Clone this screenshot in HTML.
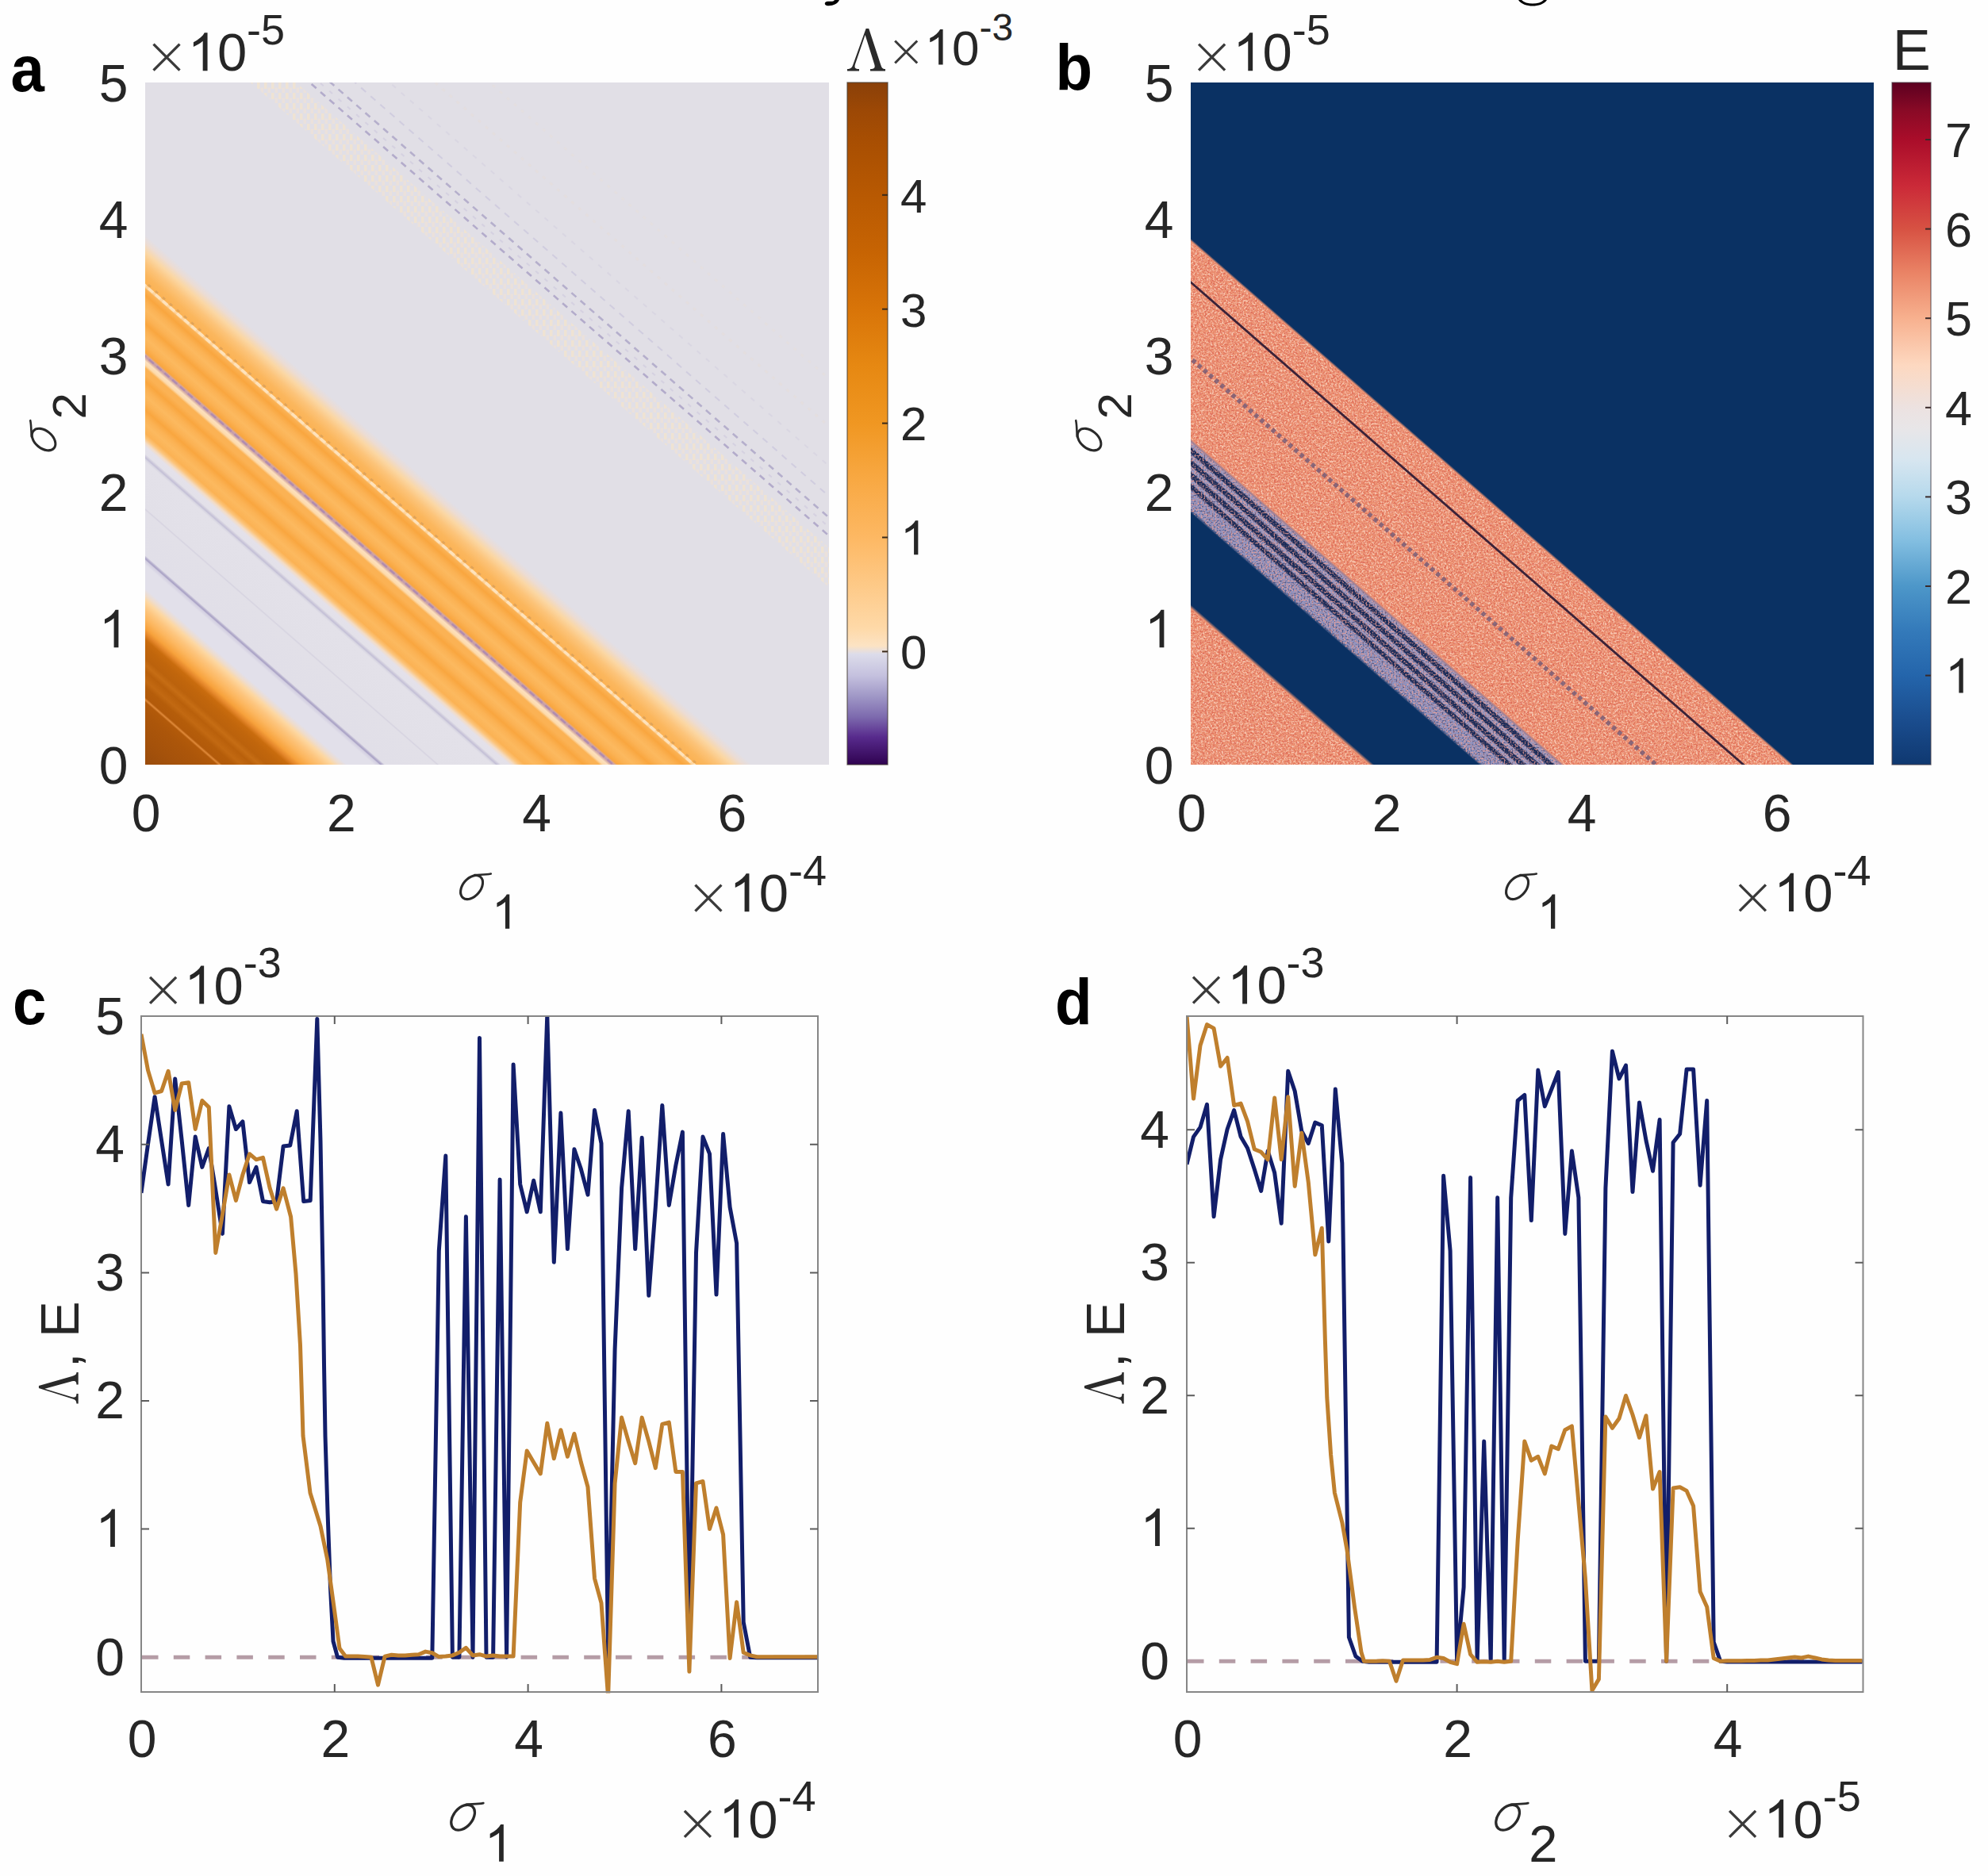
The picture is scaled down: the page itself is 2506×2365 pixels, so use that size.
<!DOCTYPE html>
<html><head><meta charset="utf-8"><title>figure</title>
<style>html,body{margin:0;padding:0;background:#fefefe;}body{width:2506px;height:2365px;overflow:hidden;font-family:"Liberation Sans",sans-serif;}svg{display:block;}</style></head>
<body>
<svg width="2506" height="2365" viewBox="0 0 2506 2365">
<defs>
<clipPath id="clipA"><rect x="183" y="104" width="862" height="860"/></clipPath>
<linearGradient id="gA" gradientUnits="userSpaceOnUse" x1="183.00" y1="-700.00" x2="-644.36" y2="247.72"><stop offset="0.00000" stop-color="#e1dfe6"/><stop offset="0.59641" stop-color="#e1dfe6"/><stop offset="0.60240" stop-color="#ecdcd3"/><stop offset="0.60958" stop-color="#fbd7a4"/><stop offset="0.61796" stop-color="#fcc47a"/><stop offset="0.62635" stop-color="#fbb75e"/><stop offset="0.63353" stop-color="#fbb254"/><stop offset="0.63263" stop-color="#fbb254"/><stop offset="0.63383" stop-color="#fdd5a0"/><stop offset="0.63563" stop-color="#fdd5a0"/><stop offset="0.63713" stop-color="#fbb254"/><stop offset="0.64192" stop-color="#f9a63f"/><stop offset="0.64731" stop-color="#fbb254"/><stop offset="0.65269" stop-color="#fcb95f"/><stop offset="0.65808" stop-color="#fbb254"/><stop offset="0.66347" stop-color="#f9a63f"/><stop offset="0.66886" stop-color="#fbb254"/><stop offset="0.67425" stop-color="#fcb95f"/><stop offset="0.67964" stop-color="#fbb254"/><stop offset="0.68503" stop-color="#f9a63f"/><stop offset="0.68683" stop-color="#d3a6a0"/><stop offset="0.68832" stop-color="#c29aae"/><stop offset="0.68982" stop-color="#dcb4a6"/><stop offset="0.69162" stop-color="#fde0bd"/><stop offset="0.69461" stop-color="#fddaaa"/><stop offset="0.69701" stop-color="#fbb254"/><stop offset="0.70180" stop-color="#fbb254"/><stop offset="0.70719" stop-color="#f9a63f"/><stop offset="0.71257" stop-color="#fbb254"/><stop offset="0.71796" stop-color="#fcb95f"/><stop offset="0.72335" stop-color="#fbb254"/><stop offset="0.72874" stop-color="#f9a63f"/><stop offset="0.73413" stop-color="#fbb254"/><stop offset="0.73952" stop-color="#fcb95f"/><stop offset="0.74611" stop-color="#fbb254"/><stop offset="0.74970" stop-color="#fcc47a"/><stop offset="0.75329" stop-color="#f3dcc6"/><stop offset="0.75629" stop-color="#e4e1ea"/><stop offset="0.76168" stop-color="#e3e1e9"/><stop offset="0.76347" stop-color="#cfcbdc"/><stop offset="0.76467" stop-color="#c3bfd6"/><stop offset="0.76587" stop-color="#d8d6e2"/><stop offset="0.76766" stop-color="#e3e1e9"/><stop offset="0.80240" stop-color="#e2e0e8"/><stop offset="0.80359" stop-color="#d6d3e0"/><stop offset="0.80479" stop-color="#e2e0e8"/><stop offset="0.83832" stop-color="#e1dfe8"/><stop offset="0.83982" stop-color="#b9b3cf"/><stop offset="0.84102" stop-color="#a8a1c4"/><stop offset="0.84222" stop-color="#d3cfe1"/><stop offset="0.84551" stop-color="#e2e0ea"/><stop offset="0.86347" stop-color="#e2e0ea"/><stop offset="0.86826" stop-color="#efdccb"/><stop offset="0.87246" stop-color="#fdd7a1"/><stop offset="0.87904" stop-color="#fdc57d"/><stop offset="0.88623" stop-color="#fcb65e"/><stop offset="0.89341" stop-color="#f7a23c"/><stop offset="0.89760" stop-color="#e5872a"/><stop offset="0.90180" stop-color="#c96c0e"/><stop offset="0.90719" stop-color="#c1660c"/><stop offset="0.91617" stop-color="#bb620c"/><stop offset="0.92096" stop-color="#c66d14"/><stop offset="0.92575" stop-color="#b9600b"/><stop offset="0.93293" stop-color="#c26912"/><stop offset="0.93772" stop-color="#b55d0a"/><stop offset="0.94551" stop-color="#b25a0a"/><stop offset="0.94731" stop-color="#e08a3a"/><stop offset="0.94910" stop-color="#b25a0a"/><stop offset="0.95808" stop-color="#ac560a"/><stop offset="0.97605" stop-color="#a5520b"/><stop offset="0.99641" stop-color="#9a4c0c"/><stop offset="1.00000" stop-color="#9a4c0c"/></linearGradient>
<pattern id="stip" width="9" height="13" patternUnits="userSpaceOnUse"><rect x="0" y="0" width="3.5" height="8" fill="#f0e3d2"/><rect x="4.5" y="6.5" width="3.5" height="6.5" fill="#eee2d8" fill-opacity="0.85"/></pattern>
<linearGradient id="cbA" x1="0" y1="0" x2="0" y2="1"><stop offset="0" stop-color="#8a4009"/><stop offset="0.04" stop-color="#9c4805"/><stop offset="0.09" stop-color="#a94f02"/><stop offset="0.165" stop-color="#b85902"/><stop offset="0.25" stop-color="#c76403"/><stop offset="0.331" stop-color="#d87408"/><stop offset="0.415" stop-color="#e68812"/><stop offset="0.5" stop-color="#f09722"/><stop offset="0.58" stop-color="#f8a842"/><stop offset="0.667" stop-color="#fdb863"/><stop offset="0.80" stop-color="#fed9a8"/><stop offset="0.826" stop-color="#fce3c4"/><stop offset="0.838" stop-color="#dcdcea"/><stop offset="0.87" stop-color="#c4c0de"/><stop offset="0.90" stop-color="#9f97c6"/><stop offset="0.93" stop-color="#7d6aae"/><stop offset="0.96" stop-color="#572a8c"/><stop offset="1" stop-color="#2f0250"/></linearGradient>
<clipPath id="clipB"><rect x="1501" y="104" width="861" height="860"/></clipPath>
<linearGradient id="gB" gradientUnits="userSpaceOnUse" x1="1501.00" y1="-700.00" x2="673.64" y2="247.72"><stop offset="0.00000" stop-color="#0a3163"/><stop offset="0.59910" stop-color="#0a3163"/><stop offset="0.60120" stop-color="#ec9272"/><stop offset="0.75030" stop-color="#ec9272"/><stop offset="0.75210" stop-color="#9c7f96"/><stop offset="0.75359" stop-color="#9f98bc"/><stop offset="0.75599" stop-color="#9a98c0"/><stop offset="0.75719" stop-color="#172a58"/><stop offset="0.76108" stop-color="#172a58"/><stop offset="0.76228" stop-color="#9a98c0"/><stop offset="0.76527" stop-color="#9a98c0"/><stop offset="0.76647" stop-color="#172a58"/><stop offset="0.77036" stop-color="#172a58"/><stop offset="0.77156" stop-color="#9a98c0"/><stop offset="0.77455" stop-color="#9a98c0"/><stop offset="0.77575" stop-color="#172a58"/><stop offset="0.77964" stop-color="#172a58"/><stop offset="0.78084" stop-color="#9a98c0"/><stop offset="0.78353" stop-color="#9a98c0"/><stop offset="0.78473" stop-color="#172a58"/><stop offset="0.78802" stop-color="#172a58"/><stop offset="0.78952" stop-color="#8f92bf"/><stop offset="0.80299" stop-color="#8f92bf"/><stop offset="0.80659" stop-color="#0a3163"/><stop offset="0.87545" stop-color="#0a3163"/><stop offset="0.87844" stop-color="#ec9272"/><stop offset="1.00000" stop-color="#ec9272"/></linearGradient>
<filter id="noise" x="0" y="0" width="100%" height="100%" color-interpolation-filters="sRGB"><feTurbulence type="fractalNoise" baseFrequency="0.42" numOctaves="2" seed="7" result="n"/><feColorMatrix in="n" type="matrix" values="0 0 0 0 1  0 0 0 0 0.90  0 0 0 0 0.84  5 0 0 0 -2.35"/></filter>
<filter id="noise2" x="0" y="0" width="100%" height="100%" color-interpolation-filters="sRGB"><feTurbulence type="fractalNoise" baseFrequency="0.47" numOctaves="2" seed="23" result="n"/><feColorMatrix in="n" type="matrix" values="0 0 0 0 0.84  0 0 0 0 0.33  0 0 0 0 0.28  0 5 0 0 -2.45"/></filter>
<filter id="noise3" x="0" y="0" width="100%" height="100%" color-interpolation-filters="sRGB"><feTurbulence type="fractalNoise" baseFrequency="0.5" numOctaves="2" seed="5" result="n"/><feColorMatrix in="n" type="matrix" values="0 0 0 0 0.93  0 0 0 0 0.62  0 0 0 0 0.58  0 0 5 0 -2.3"/></filter>
<filter id="noise4" x="0" y="0" width="100%" height="100%" color-interpolation-filters="sRGB"><feTurbulence type="fractalNoise" baseFrequency="0.5" numOctaves="2" seed="11" result="n"/><feColorMatrix in="n" type="matrix" values="0 0 0 0 0.10  0 0 0 0 0.16  0 0 0 0 0.36  4 0 0 0 -2.0"/></filter>
<clipPath id="clipLav"><polygon points="1501.0,557.0 2362.0,1308.7 2362.0,1396.7 1501.0,645.0"/></clipPath>
<clipPath id="clipSal"><polygon points="1501.0,305.0 2362.0,1056.7 2362.0,1304.7 1501.0,553.0"/><polygon points="1501.0,768.0 2362.0,1519.7 2362.0,1751.7 1501.0,1000.0"/></clipPath>
<linearGradient id="cbB" x1="0" y1="0" x2="0" y2="1"><stop offset="0.000" stop-color="#5c0020"/><stop offset="0.042" stop-color="#8a0a26"/><stop offset="0.084" stop-color="#aa0d2a"/><stop offset="0.152" stop-color="#cb2a38"/><stop offset="0.215" stop-color="#d75243"/><stop offset="0.280" stop-color="#ea8466"/><stop offset="0.345" stop-color="#f7b08e"/><stop offset="0.414" stop-color="#fdd8c0"/><stop offset="0.478" stop-color="#ece2e1"/><stop offset="0.507" stop-color="#e8e6e8"/><stop offset="0.553" stop-color="#d7e6f0"/><stop offset="0.607" stop-color="#b6d9ec"/><stop offset="0.670" stop-color="#84bfe1"/><stop offset="0.738" stop-color="#4d97c9"/><stop offset="0.803" stop-color="#347aba"/><stop offset="0.869" stop-color="#2465ab"/><stop offset="0.937" stop-color="#1a4c8d"/><stop offset="1.000" stop-color="#0f3870"/></linearGradient>
<clipPath id="clipC"><rect x="177.0" y="1280.0" width="855.0" height="854.5"/></clipPath>
<clipPath id="clipD"><rect x="1495.0" y="1280.0" width="854.5" height="854.5"/></clipPath>
</defs>
<rect x="0" y="0" width="2506" height="2365" fill="#fefefe"/>
<path d="M1058 0 C1056 5 1049 8 1042 7 C1039 6 1039 3 1042 2 C1046 1 1050 3 1052 0 Z" fill="#000"/>
<path d="M1914 0 C1917 5 1925 7.5 1932 7.5 C1939 7.5 1947 5 1950 0 L1946 0 C1943 3 1938 4.5 1932 4.5 C1926 4.5 1921 3 1918 0 Z" fill="#000"/>
<g clip-path="url(#clipA)">
<rect x="183" y="104" width="862" height="860" fill="url(#gA)"/>
<polygon points="183.0,-62.0 1050.0,694.9 1050.0,744.9 183.0,-12.0" fill="url(#stip)" fill-opacity="0.95"/>
<line x1="178.0" y1="-81.4" x2="1050.0" y2="679.9" stroke="#aaa2c6" stroke-width="2.6" stroke-opacity="0.85" stroke-dasharray="8 7"/>
<line x1="178.0" y1="-104.4" x2="1050.0" y2="656.9" stroke="#aaa2c6" stroke-width="2.6" stroke-opacity="0.80" stroke-dasharray="8 7"/>
<line x1="178.0" y1="-92.4" x2="1050.0" y2="668.9" stroke="#c9c4dc" stroke-width="2.0" stroke-opacity="0.50" stroke-dasharray="5 10"/>
<line x1="178.0" y1="-131.4" x2="1050.0" y2="629.9" stroke="#c3bdd8" stroke-width="2.0" stroke-opacity="0.55" stroke-dasharray="8 8"/>
<line x1="178.0" y1="-169.4" x2="1050.0" y2="591.9" stroke="#d0cbde" stroke-width="2.0" stroke-opacity="0.45" stroke-dasharray="6 9"/>
<line x1="178.0" y1="-219.4" x2="1050.0" y2="541.9" stroke="#e8ded8" stroke-width="3.0" stroke-opacity="0.50" stroke-dasharray="4 8"/>
<line x1="178.0" y1="-279.4" x2="1050.0" y2="481.9" stroke="#e8ded8" stroke-width="3.0" stroke-opacity="0.40" stroke-dasharray="4 8"/>
<line x1="178.0" y1="355.6" x2="1050.0" y2="1116.9" stroke="#fee3bd" stroke-width="3.6" stroke-opacity="0.95" stroke-dasharray="8 4"/>
<line x1="178.0" y1="351.1" x2="1050.0" y2="1112.4" stroke="#b98d5c" stroke-width="2.4" stroke-opacity="0.40" stroke-dasharray="4 8"/>
<line x1="178.0" y1="444.6" x2="1050.0" y2="1205.9" stroke="#a884b0" stroke-width="2.6" stroke-opacity="0.70" stroke-dasharray="8 5"/>
</g>
<text x="161.5" y="988.3" font-family="Liberation Sans" font-size="66.0" text-anchor="end" font-weight="normal" font-style="normal" fill="#262626" >0</text>
<path transform="translate(124.79,816.30) scale(0.03223,-0.03223)" d="M763 0 L583 0 L583 1147 Q518 1085 412.5 1023 Q307 961 223 930 L223 1104 Q374 1175 487 1276 Q600 1377 647 1472 L763 1472 Z" fill="#262626"/>
<text x="161.5" y="644.3" font-family="Liberation Sans" font-size="66.0" text-anchor="end" font-weight="normal" font-style="normal" fill="#262626" >2</text>
<text x="161.5" y="472.3" font-family="Liberation Sans" font-size="66.0" text-anchor="end" font-weight="normal" font-style="normal" fill="#262626" >3</text>
<text x="161.5" y="300.3" font-family="Liberation Sans" font-size="66.0" text-anchor="end" font-weight="normal" font-style="normal" fill="#262626" >4</text>
<text x="161.5" y="128.3" font-family="Liberation Sans" font-size="66.0" text-anchor="end" font-weight="normal" font-style="normal" fill="#262626" >5</text>
<text x="184.0" y="1048.3" font-family="Liberation Sans" font-size="66.0" text-anchor="middle" font-weight="normal" font-style="normal" fill="#262626" >0</text>
<text x="430.3" y="1048.3" font-family="Liberation Sans" font-size="66.0" text-anchor="middle" font-weight="normal" font-style="normal" fill="#262626" >2</text>
<text x="676.6" y="1048.3" font-family="Liberation Sans" font-size="66.0" text-anchor="middle" font-weight="normal" font-style="normal" fill="#262626" >4</text>
<text x="922.9" y="1048.3" font-family="Liberation Sans" font-size="66.0" text-anchor="middle" font-weight="normal" font-style="normal" fill="#262626" >6</text>
<path d="M193.5 55.6 L226.5 88.6 M193.5 88.6 L226.5 55.6" stroke="#3a3a3a" stroke-width="3.3" fill="none"/>
<path transform="translate(236.60,89.30) scale(0.03271,-0.03271)" d="M763 0 L583 0 L583 1147 Q518 1085 412.5 1023 Q307 961 223 930 L223 1104 Q374 1175 487 1276 Q600 1377 647 1472 L763 1472 Z" fill="#262626"/>
<text x="273.9" y="89.3" font-family="Liberation Sans" font-size="67.0" text-anchor="start" font-weight="normal" font-style="normal" fill="#262626" >0</text>
<text x="311.1" y="55.8" font-family="Liberation Sans" font-size="54.0" text-anchor="start" font-weight="normal" font-style="normal" fill="#262626" >-5</text>
<path d="M876.4 1115.6 L909.4 1148.6 M876.4 1148.6 L909.4 1115.6" stroke="#3a3a3a" stroke-width="3.3" fill="none"/>
<path transform="translate(919.50,1149.30) scale(0.03271,-0.03271)" d="M763 0 L583 0 L583 1147 Q518 1085 412.5 1023 Q307 961 223 930 L223 1104 Q374 1175 487 1276 Q600 1377 647 1472 L763 1472 Z" fill="#262626"/>
<text x="956.8" y="1149.3" font-family="Liberation Sans" font-size="67.0" text-anchor="start" font-weight="normal" font-style="normal" fill="#262626" >0</text>
<text x="994.0" y="1115.8" font-family="Liberation Sans" font-size="54.0" text-anchor="start" font-weight="normal" font-style="normal" fill="#262626" >-4</text>
<text transform="translate(13.5,115.3) scale(0.930,1)" font-family="Liberation Sans" font-size="82.0" font-weight="bold" fill="#000">a</text>
<rect x="1068" y="104" width="51" height="860" fill="url(#cbA)" stroke="#4a4038" stroke-opacity="0.75" stroke-width="1.3"/>
<line x1="1112.0" y1="821.4" x2="1119.0" y2="821.4" stroke="#3a2a1a" stroke-width="2"/>
<text x="1135.0" y="843.2" font-family="Liberation Sans" font-size="60.0" text-anchor="start" font-weight="normal" font-style="normal" fill="#262626" >0</text>
<line x1="1112.0" y1="677.5" x2="1119.0" y2="677.5" stroke="#3a2a1a" stroke-width="2"/>
<path transform="translate(1135.00,699.30) scale(0.02930,-0.02930)" d="M763 0 L583 0 L583 1147 Q518 1085 412.5 1023 Q307 961 223 930 L223 1104 Q374 1175 487 1276 Q600 1377 647 1472 L763 1472 Z" fill="#262626"/>
<line x1="1112.0" y1="533.6" x2="1119.0" y2="533.6" stroke="#3a2a1a" stroke-width="2"/>
<text x="1135.0" y="555.4" font-family="Liberation Sans" font-size="60.0" text-anchor="start" font-weight="normal" font-style="normal" fill="#262626" >2</text>
<line x1="1112.0" y1="389.7" x2="1119.0" y2="389.7" stroke="#3a2a1a" stroke-width="2"/>
<text x="1135.0" y="411.5" font-family="Liberation Sans" font-size="60.0" text-anchor="start" font-weight="normal" font-style="normal" fill="#262626" >3</text>
<line x1="1112.0" y1="245.8" x2="1119.0" y2="245.8" stroke="#3a2a1a" stroke-width="2"/>
<text x="1135.0" y="267.6" font-family="Liberation Sans" font-size="60.0" text-anchor="start" font-weight="normal" font-style="normal" fill="#262626" >4</text>
<path transform="translate(1068.00,89.50) scale(1.0000,1.0000)" d="M0 0 L0 -2.4 C4 -2.6 6 -3.8 7.5 -8.5 L23.6 -53.5 L27.2 -53.5 L42 -8.5 C43.5 -3.8 44.5 -2.6 48 -2.4 L48 0 L29 0 L29 -2.4 C34 -2.6 35.6 -3.8 34.2 -8.5 L22.6 -45.5 L10 -8.5 C8.7 -3.8 10 -2.6 15 -2.4 L15 0 Z" fill="#2a2a2a"/>
<path d="M1128.2 51.5 L1156.2 79.5 M1128.2 79.5 L1156.2 51.5" stroke="#3a3a3a" stroke-width="3.0" fill="none"/>
<path transform="translate(1165.50,81.50) scale(0.03027,-0.03027)" d="M763 0 L583 0 L583 1147 Q518 1085 412.5 1023 Q307 961 223 930 L223 1104 Q374 1175 487 1276 Q600 1377 647 1472 L763 1472 Z" fill="#262626"/>
<text x="1200.0" y="81.5" font-family="Liberation Sans" font-size="62.0" text-anchor="start" font-weight="normal" font-style="normal" fill="#262626" >0</text>
<text x="1234.5" y="51.4" font-family="Liberation Sans" font-size="48.0" text-anchor="start" font-weight="normal" font-style="normal" fill="#262626" >-3</text>
<g transform="translate(578.90,1134.50) scale(0.9430)" fill="none" stroke="#2a2a2a" stroke-linecap="round"><ellipse cx="16.6" cy="-16.9" rx="18.2" ry="11.9" transform="rotate(-50 16.6 -16.9)" stroke-width="3.30"/><path d="M20.5 -33.3 C27 -33.9 36 -33.6 42.3 -35" stroke-width="2.80"/></g>
<path transform="translate(619.90,1170.70) scale(0.02930,-0.02930)" d="M763 0 L583 0 L583 1147 Q518 1085 412.5 1023 Q307 961 223 930 L223 1104 Q374 1175 487 1276 Q600 1377 647 1472 L763 1472 Z" fill="#262626"/>
<g transform="translate(70.8,569.5) rotate(-90)">
<g transform="translate(0.00,0.00) scale(0.9300)" fill="none" stroke="#2a2a2a" stroke-linecap="round"><ellipse cx="16.6" cy="-16.9" rx="18.2" ry="11.9" transform="rotate(-50 16.6 -16.9)" stroke-width="3.30"/><path d="M20.5 -33.3 C27 -33.9 36 -33.6 42.3 -35" stroke-width="2.80"/></g>
<text x="41.0" y="36.7" font-family="Liberation Sans" font-size="60.0" text-anchor="start" font-weight="normal" font-style="normal" fill="#262626" >2</text>
</g>
<g clip-path="url(#clipB)">
<rect x="1501" y="104" width="861" height="860" fill="url(#gB)"/>
<g clip-path="url(#clipSal)">
<rect x="1501" y="104" width="861" height="860" filter="url(#noise)" opacity="0.6"/>
<rect x="1501" y="104" width="861" height="860" filter="url(#noise2)" opacity="0.6"/>
</g>
<g clip-path="url(#clipLav)">
<rect x="1501" y="540" width="861" height="424" filter="url(#noise3)" opacity="0.75"/>
<rect x="1501" y="540" width="861" height="424" filter="url(#noise4)" opacity="0.55"/>
</g>
<line x1="1496.0" y1="351.4" x2="2367.0" y2="1111.8" stroke="#3b2238" stroke-width="2.8" stroke-opacity="1.00"/>
<line x1="1496.0" y1="447.6" x2="2367.0" y2="1208.0" stroke="#6e5876" stroke-width="5.5" stroke-opacity="0.78" stroke-dasharray="5 4.5"/>
</g>
<text x="1479.5" y="988.3" font-family="Liberation Sans" font-size="66.0" text-anchor="end" font-weight="normal" font-style="normal" fill="#262626" >0</text>
<path transform="translate(1442.79,816.30) scale(0.03223,-0.03223)" d="M763 0 L583 0 L583 1147 Q518 1085 412.5 1023 Q307 961 223 930 L223 1104 Q374 1175 487 1276 Q600 1377 647 1472 L763 1472 Z" fill="#262626"/>
<text x="1479.5" y="644.3" font-family="Liberation Sans" font-size="66.0" text-anchor="end" font-weight="normal" font-style="normal" fill="#262626" >2</text>
<text x="1479.5" y="472.3" font-family="Liberation Sans" font-size="66.0" text-anchor="end" font-weight="normal" font-style="normal" fill="#262626" >3</text>
<text x="1479.5" y="300.3" font-family="Liberation Sans" font-size="66.0" text-anchor="end" font-weight="normal" font-style="normal" fill="#262626" >4</text>
<text x="1479.5" y="128.3" font-family="Liberation Sans" font-size="66.0" text-anchor="end" font-weight="normal" font-style="normal" fill="#262626" >5</text>
<text x="1502.0" y="1048.3" font-family="Liberation Sans" font-size="66.0" text-anchor="middle" font-weight="normal" font-style="normal" fill="#262626" >0</text>
<text x="1748.0" y="1048.3" font-family="Liberation Sans" font-size="66.0" text-anchor="middle" font-weight="normal" font-style="normal" fill="#262626" >2</text>
<text x="1994.0" y="1048.3" font-family="Liberation Sans" font-size="66.0" text-anchor="middle" font-weight="normal" font-style="normal" fill="#262626" >4</text>
<text x="2240.0" y="1048.3" font-family="Liberation Sans" font-size="66.0" text-anchor="middle" font-weight="normal" font-style="normal" fill="#262626" >6</text>
<path d="M1511.1 55.6 L1544.1 88.6 M1511.1 88.6 L1544.1 55.6" stroke="#3a3a3a" stroke-width="3.3" fill="none"/>
<path transform="translate(1554.20,89.30) scale(0.03271,-0.03271)" d="M763 0 L583 0 L583 1147 Q518 1085 412.5 1023 Q307 961 223 930 L223 1104 Q374 1175 487 1276 Q600 1377 647 1472 L763 1472 Z" fill="#262626"/>
<text x="1591.5" y="89.3" font-family="Liberation Sans" font-size="67.0" text-anchor="start" font-weight="normal" font-style="normal" fill="#262626" >0</text>
<text x="1628.7" y="55.8" font-family="Liberation Sans" font-size="54.0" text-anchor="start" font-weight="normal" font-style="normal" fill="#262626" >-5</text>
<path d="M2192.9 1115.3 L2225.9 1148.3 M2192.9 1148.3 L2225.9 1115.3" stroke="#3a3a3a" stroke-width="3.3" fill="none"/>
<path transform="translate(2236.00,1149.00) scale(0.03271,-0.03271)" d="M763 0 L583 0 L583 1147 Q518 1085 412.5 1023 Q307 961 223 930 L223 1104 Q374 1175 487 1276 Q600 1377 647 1472 L763 1472 Z" fill="#262626"/>
<text x="2273.3" y="1149.0" font-family="Liberation Sans" font-size="67.0" text-anchor="start" font-weight="normal" font-style="normal" fill="#262626" >0</text>
<text x="2310.5" y="1115.5" font-family="Liberation Sans" font-size="54.0" text-anchor="start" font-weight="normal" font-style="normal" fill="#262626" >-4</text>
<text transform="translate(1330.5,113.3) scale(0.930,1)" font-family="Liberation Sans" font-size="82.0" font-weight="bold" fill="#000">b</text>
<rect x="2385" y="104" width="49" height="860" fill="url(#cbB)" stroke="#4a4048" stroke-opacity="0.7" stroke-width="1.3"/>
<line x1="2427.0" y1="851.6" x2="2434.0" y2="851.6" stroke="#3a2a2a" stroke-width="2"/>
<path transform="translate(2452.00,873.60) scale(0.02979,-0.02979)" d="M763 0 L583 0 L583 1147 Q518 1085 412.5 1023 Q307 961 223 930 L223 1104 Q374 1175 487 1276 Q600 1377 647 1472 L763 1472 Z" fill="#262626"/>
<line x1="2427.0" y1="739.0" x2="2434.0" y2="739.0" stroke="#3a2a2a" stroke-width="2"/>
<text x="2452.0" y="761.0" font-family="Liberation Sans" font-size="61.0" text-anchor="start" font-weight="normal" font-style="normal" fill="#262626" >2</text>
<line x1="2427.0" y1="626.4" x2="2434.0" y2="626.4" stroke="#3a2a2a" stroke-width="2"/>
<text x="2452.0" y="648.4" font-family="Liberation Sans" font-size="61.0" text-anchor="start" font-weight="normal" font-style="normal" fill="#262626" >3</text>
<line x1="2427.0" y1="513.8" x2="2434.0" y2="513.8" stroke="#3a2a2a" stroke-width="2"/>
<text x="2452.0" y="535.8" font-family="Liberation Sans" font-size="61.0" text-anchor="start" font-weight="normal" font-style="normal" fill="#262626" >4</text>
<line x1="2427.0" y1="401.2" x2="2434.0" y2="401.2" stroke="#3a2a2a" stroke-width="2"/>
<text x="2452.0" y="423.2" font-family="Liberation Sans" font-size="61.0" text-anchor="start" font-weight="normal" font-style="normal" fill="#262626" >5</text>
<line x1="2427.0" y1="288.6" x2="2434.0" y2="288.6" stroke="#3a2a2a" stroke-width="2"/>
<text x="2452.0" y="310.6" font-family="Liberation Sans" font-size="61.0" text-anchor="start" font-weight="normal" font-style="normal" fill="#262626" >6</text>
<line x1="2427.0" y1="176.0" x2="2434.0" y2="176.0" stroke="#3a2a2a" stroke-width="2"/>
<text x="2452.0" y="198.0" font-family="Liberation Sans" font-size="61.0" text-anchor="start" font-weight="normal" font-style="normal" fill="#262626" >7</text>
<text x="2385.7" y="88.4" font-family="Liberation Sans" font-size="72.0" text-anchor="start" font-weight="normal" font-style="normal" fill="#262626" >E</text>
<g transform="translate(1896.90,1134.50) scale(0.9430)" fill="none" stroke="#2a2a2a" stroke-linecap="round"><ellipse cx="16.6" cy="-16.9" rx="18.2" ry="11.9" transform="rotate(-50 16.6 -16.9)" stroke-width="3.30"/><path d="M20.5 -33.3 C27 -33.9 36 -33.6 42.3 -35" stroke-width="2.80"/></g>
<path transform="translate(1937.90,1170.70) scale(0.02930,-0.02930)" d="M763 0 L583 0 L583 1147 Q518 1085 412.5 1023 Q307 961 223 930 L223 1104 Q374 1175 487 1276 Q600 1377 647 1472 L763 1472 Z" fill="#262626"/>
<g transform="translate(1388.8,569.5) rotate(-90)">
<g transform="translate(0.00,0.00) scale(0.9300)" fill="none" stroke="#2a2a2a" stroke-linecap="round"><ellipse cx="16.6" cy="-16.9" rx="18.2" ry="11.9" transform="rotate(-50 16.6 -16.9)" stroke-width="3.30"/><path d="M20.5 -33.3 C27 -33.9 36 -33.6 42.3 -35" stroke-width="2.80"/></g>
<text x="41.0" y="36.7" font-family="Liberation Sans" font-size="60.0" text-anchor="start" font-weight="normal" font-style="normal" fill="#262626" >2</text>
</g>
<g clip-path="url(#clipC)">
<line x1="178.0" y1="2089.2" x2="1031.0" y2="2089.2" stroke="#b59ca6" stroke-width="5" stroke-dasharray="20.5 19.3" stroke-dashoffset="-1"/>
<path d="M178.0 1503.8 L186.5 1442.7 L195.1 1382.7 L203.6 1437.9 L212.1 1493.0 L220.7 1359.9 L229.2 1437.9 L237.7 1519.4 L246.2 1433.1 L254.8 1471.4 L263.3 1447.5 L271.8 1500.2 L280.4 1555.4 L288.9 1394.7 L297.4 1423.5 L305.9 1413.9 L314.5 1490.6 L323.0 1471.4 L331.5 1514.6 L340.1 1515.8 L348.6 1514.6 L357.1 1445.1 L365.7 1443.9 L374.2 1400.7 L382.7 1514.6 L391.2 1513.4 L399.8 1284.4 L404.0 1438.0 L407.0 1606.0 L408.5 1720.0 L410.0 1810.0 L413.0 1906.0 L416.5 2002.0 L420.0 2069.0 L425.5 2089.2 L433.9 2090.2 L442.4 2090.2 L451.0 2090.2 L459.5 2090.2 L468.0 2090.2 L476.5 2090.2 L485.1 2090.2 L493.6 2090.2 L502.1 2090.2 L510.7 2090.2 L519.2 2090.2 L527.7 2090.2 L536.3 2090.2 L544.8 2090.2 L553.3 1577.0 L561.8 1457.1 L570.4 2089.2 L578.9 2089.2 L587.4 1533.8 L596.0 2089.2 L604.5 1308.4 L613.0 2089.2 L621.6 2089.2 L630.1 1487.0 L638.6 2089.2 L647.1 1341.9 L655.7 1493.0 L664.2 1527.8 L672.7 1488.2 L681.3 1527.8 L689.8 1279.6 L698.3 1591.3 L706.9 1403.1 L715.4 1574.6 L723.9 1448.7 L732.4 1473.8 L741.0 1506.2 L749.5 1399.5 L758.0 1441.5 L766.6 2089.2 L775.1 1700.9 L783.6 1497.8 L792.2 1400.7 L800.7 1574.6 L809.2 1434.3 L817.8 1633.3 L826.3 1521.8 L834.8 1393.5 L843.3 1519.4 L851.9 1469.0 L860.4 1427.1 L868.9 2089.2 L877.5 1579.4 L886.0 1433.1 L894.5 1454.7 L903.0 1632.1 L911.6 1429.5 L920.1 1521.8 L928.6 1567.4 L937.2 2045.0 L945.7 2089.2 L954.2 2089.7 L962.8 2089.7 L971.3 2089.7 L979.8 2089.7 L988.3 2089.7 L996.9 2089.7 L1005.4 2089.7 L1013.9 2089.7 L1022.5 2089.7 L1031.0 2089.7" fill="none" stroke="#121e6a" stroke-width="5" stroke-linejoin="round" stroke-linecap="butt"/>
<path d="M178.0 1303.6 L186.5 1349.1 L195.1 1377.9 L203.6 1375.5 L212.1 1350.3 L220.7 1399.5 L229.2 1365.9 L237.7 1364.7 L246.2 1423.5 L254.8 1387.5 L263.3 1395.9 L271.8 1579.4 L280.4 1531.4 L288.9 1481.0 L297.4 1513.4 L305.9 1481.0 L314.5 1454.7 L323.0 1461.8 L331.5 1459.4 L340.1 1497.8 L348.6 1524.2 L357.1 1497.8 L366.6 1534.0 L373.0 1606.0 L378.5 1696.0 L382.0 1810.0 L391.0 1882.0 L404.0 1924.0 L412.7 1966.0 L421.0 2026.0 L428.0 2078.0 L435.5 2088.0 L442.4 2088.1 L451.0 2088.1 L459.5 2088.6 L468.0 2089.3 L476.5 2124.1 L485.1 2088.1 L493.6 2086.2 L502.1 2086.9 L510.7 2086.9 L519.2 2086.2 L527.7 2085.7 L536.3 2082.1 L544.8 2083.8 L553.3 2088.6 L561.8 2088.1 L570.4 2086.9 L578.9 2083.3 L587.4 2077.3 L596.0 2086.9 L604.5 2085.7 L613.0 2088.1 L621.6 2086.9 L630.1 2088.1 L638.6 2088.1 L647.1 2088.1 L655.7 1893.8 L664.2 1829.1 L672.7 1843.5 L681.3 1857.9 L689.8 1794.3 L698.3 1838.7 L706.9 1802.7 L715.4 1836.3 L723.9 1807.5 L732.4 1843.5 L741.0 1874.7 L749.5 1989.8 L758.0 2020.9 L766.6 2139.6 L775.1 1869.9 L783.6 1787.1 L792.2 1817.1 L800.7 1844.7 L809.2 1787.1 L817.8 1817.1 L826.3 1850.7 L834.8 1795.5 L843.3 1793.1 L851.9 1855.5 L860.4 1855.5 L868.9 2107.3 L877.5 1869.9 L886.0 1867.5 L894.5 1927.4 L903.0 1901.0 L911.6 1934.6 L920.1 2090.5 L928.6 2019.7 L937.2 2083.3 L945.7 2086.9 L954.2 2088.7 L962.8 2088.7 L971.3 2088.7 L979.8 2088.7 L988.3 2088.7 L996.9 2088.7 L1005.4 2088.7 L1013.9 2088.7 L1022.5 2088.7 L1031.0 2088.7" fill="none" stroke="#bf7f2d" stroke-width="5" stroke-linejoin="round" stroke-linecap="butt"/>
</g>
<rect x="178.0" y="1281.0" width="853.0" height="852.0" fill="none" stroke="#868686" stroke-width="2"/>
<path d="M421.8 2133.0 v-10 M421.8 1281.0 v10 M665.6 2133.0 v-10 M665.6 1281.0 v10 M909.4 2133.0 v-10 M909.4 1281.0 v10 M178.0 1927.6 h10 M1031.0 1927.6 h-10 M178.0 1766.0 h10 M1031.0 1766.0 h-10 M178.0 1604.4 h10 M1031.0 1604.4 h-10 M178.0 1442.8 h10 M1031.0 1442.8 h-10" stroke="#5c5c5c" stroke-width="2" fill="none"/>
<text x="157.0" y="2111.5" font-family="Liberation Sans" font-size="66.0" text-anchor="end" font-weight="normal" font-style="normal" fill="#262626" >0</text>
<path transform="translate(120.29,1949.90) scale(0.03223,-0.03223)" d="M763 0 L583 0 L583 1147 Q518 1085 412.5 1023 Q307 961 223 930 L223 1104 Q374 1175 487 1276 Q600 1377 647 1472 L763 1472 Z" fill="#262626"/>
<text x="157.0" y="1788.3" font-family="Liberation Sans" font-size="66.0" text-anchor="end" font-weight="normal" font-style="normal" fill="#262626" >2</text>
<text x="157.0" y="1626.7" font-family="Liberation Sans" font-size="66.0" text-anchor="end" font-weight="normal" font-style="normal" fill="#262626" >3</text>
<text x="157.0" y="1465.1" font-family="Liberation Sans" font-size="66.0" text-anchor="end" font-weight="normal" font-style="normal" fill="#262626" >4</text>
<text x="157.0" y="1303.5" font-family="Liberation Sans" font-size="66.0" text-anchor="end" font-weight="normal" font-style="normal" fill="#262626" >5</text>
<text x="179.0" y="2215.3" font-family="Liberation Sans" font-size="66.0" text-anchor="middle" font-weight="normal" font-style="normal" fill="#262626" >0</text>
<text x="422.8" y="2215.3" font-family="Liberation Sans" font-size="66.0" text-anchor="middle" font-weight="normal" font-style="normal" fill="#262626" >2</text>
<text x="666.6" y="2215.3" font-family="Liberation Sans" font-size="66.0" text-anchor="middle" font-weight="normal" font-style="normal" fill="#262626" >4</text>
<text x="910.4" y="2215.3" font-family="Liberation Sans" font-size="66.0" text-anchor="middle" font-weight="normal" font-style="normal" fill="#262626" >6</text>
<path d="M189.1 1231.9 L222.1 1264.9 M189.1 1264.9 L222.1 1231.9" stroke="#3a3a3a" stroke-width="3.3" fill="none"/>
<path transform="translate(232.20,1265.60) scale(0.03271,-0.03271)" d="M763 0 L583 0 L583 1147 Q518 1085 412.5 1023 Q307 961 223 930 L223 1104 Q374 1175 487 1276 Q600 1377 647 1472 L763 1472 Z" fill="#262626"/>
<text x="269.5" y="1265.6" font-family="Liberation Sans" font-size="67.0" text-anchor="start" font-weight="normal" font-style="normal" fill="#262626" >0</text>
<text x="306.7" y="1232.1" font-family="Liberation Sans" font-size="54.0" text-anchor="start" font-weight="normal" font-style="normal" fill="#262626" >-3</text>
<path d="M862.9 2282.9 L895.9 2315.9 M862.9 2315.9 L895.9 2282.9" stroke="#3a3a3a" stroke-width="3.3" fill="none"/>
<path transform="translate(906.00,2316.60) scale(0.03271,-0.03271)" d="M763 0 L583 0 L583 1147 Q518 1085 412.5 1023 Q307 961 223 930 L223 1104 Q374 1175 487 1276 Q600 1377 647 1472 L763 1472 Z" fill="#262626"/>
<text x="943.3" y="2316.6" font-family="Liberation Sans" font-size="67.0" text-anchor="start" font-weight="normal" font-style="normal" fill="#262626" >0</text>
<text x="980.5" y="2283.1" font-family="Liberation Sans" font-size="54.0" text-anchor="start" font-weight="normal" font-style="normal" fill="#262626" >-4</text>
<text transform="translate(16.0,1291.0) scale(0.930,1)" font-family="Liberation Sans" font-size="82.0" font-weight="bold" fill="#000">c</text>
<g transform="translate(567.00,2308.10) scale(1.0000)" fill="none" stroke="#2a2a2a" stroke-linecap="round"><ellipse cx="16.6" cy="-16.9" rx="18.2" ry="11.9" transform="rotate(-50 16.6 -16.9)" stroke-width="3.30"/><path d="M20.5 -33.3 C27 -33.9 36 -33.6 42.3 -35" stroke-width="2.80"/></g>
<path transform="translate(610.60,2346.80) scale(0.03174,-0.03174)" d="M763 0 L583 0 L583 1147 Q518 1085 412.5 1023 Q307 961 223 930 L223 1104 Q374 1175 487 1276 Q600 1377 647 1472 L763 1472 Z" fill="#262626"/>
<g transform="translate(98.7,1769.4) rotate(-90)">
<path transform="translate(0.00,0.00) scale(0.8200,0.9300)" d="M0 0 L0 -2.4 C4 -2.6 6 -3.8 7.5 -8.5 L23.6 -53.5 L27.2 -53.5 L42 -8.5 C43.5 -3.8 44.5 -2.6 48 -2.4 L48 0 L29 0 L29 -2.4 C34 -2.6 35.6 -3.8 34.2 -8.5 L22.6 -45.5 L10 -8.5 C8.7 -3.8 10 -2.6 15 -2.4 L15 0 Z" fill="#2a2a2a"/>
<text x="44.8" y="0.0" font-family="Liberation Sans" font-size="69.0" text-anchor="start" font-weight="normal" font-style="normal" fill="#262626" >, E</text>
</g>
<g clip-path="url(#clipD)">
<line x1="1496.0" y1="2094.3" x2="2348.5" y2="2094.3" stroke="#b59ca6" stroke-width="5" stroke-dasharray="20.5 19.3" stroke-dashoffset="-1"/>
<path d="M1496.0 1467.8 L1504.5 1433.1 L1513.0 1421.1 L1521.5 1392.3 L1530.1 1533.8 L1538.6 1461.8 L1547.1 1423.5 L1555.6 1399.5 L1564.1 1433.1 L1572.6 1447.5 L1581.2 1473.8 L1589.7 1501.4 L1598.2 1451.1 L1606.7 1478.6 L1615.2 1542.2 L1623.7 1350.3 L1632.2 1375.5 L1640.8 1425.9 L1649.3 1441.5 L1657.8 1415.1 L1666.3 1418.7 L1674.8 1565.0 L1683.3 1373.1 L1691.8 1466.6 L1700.4 2064.0 L1708.9 2088.0 L1717.4 2094.3 L1725.9 2095.3 L1734.4 2095.3 L1742.9 2095.3 L1751.5 2095.3 L1760.0 2095.3 L1768.5 2095.3 L1777.0 2095.3 L1785.5 2095.3 L1794.0 2095.3 L1802.5 2095.3 L1811.1 2095.3 L1819.6 1482.2 L1828.1 1577.0 L1836.6 2094.3 L1845.1 2001.0 L1853.6 1484.6 L1862.1 2094.3 L1870.7 1817.0 L1879.2 2094.3 L1887.7 1509.8 L1896.2 2094.3 L1904.7 1509.8 L1913.2 1387.5 L1921.8 1380.3 L1930.3 1538.6 L1938.8 1349.1 L1947.3 1394.7 L1955.8 1373.1 L1964.3 1351.5 L1972.8 1555.4 L1981.4 1451.1 L1989.9 1509.8 L1998.4 2094.3 L2006.9 2094.3 L2015.4 2094.3 L2023.9 1497.8 L2032.4 1325.2 L2041.0 1359.9 L2049.5 1343.1 L2058.0 1502.6 L2066.5 1389.9 L2075.0 1437.9 L2083.5 1476.2 L2092.1 1411.5 L2100.6 2094.3 L2109.1 1440.3 L2117.6 1429.5 L2126.1 1347.9 L2134.6 1347.9 L2143.1 1494.2 L2151.7 1387.5 L2160.2 2070.0 L2168.7 2094.3 L2177.2 2095.1 L2185.7 2095.1 L2194.2 2095.1 L2202.7 2095.1 L2211.3 2095.1 L2219.8 2095.1 L2228.3 2095.1 L2236.8 2095.1 L2245.3 2095.1 L2253.8 2095.1 L2262.3 2095.1 L2270.9 2095.1 L2279.4 2095.1 L2287.9 2095.1 L2296.4 2095.1 L2304.9 2095.1 L2313.4 2095.1 L2322.0 2095.1 L2330.5 2095.1 L2339.0 2095.1 L2347.5 2095.1" fill="none" stroke="#121e6a" stroke-width="5" stroke-linejoin="round" stroke-linecap="butt"/>
<path d="M1496.0 1280.8 L1504.5 1385.1 L1513.0 1318.0 L1521.5 1291.6 L1530.1 1296.4 L1538.6 1344.3 L1547.1 1333.5 L1555.6 1393.5 L1564.1 1391.1 L1572.6 1413.9 L1581.2 1448.7 L1589.7 1452.3 L1598.2 1461.8 L1606.7 1383.9 L1615.2 1461.8 L1623.7 1382.7 L1632.2 1495.4 L1640.8 1428.3 L1649.3 1490.6 L1657.8 1581.8 L1666.3 1548.2 L1670.4 1690.0 L1672.8 1762.0 L1677.6 1834.0 L1682.4 1882.0 L1692.0 1920.0 L1698.0 1954.0 L1707.5 2026.0 L1716.0 2083.0 L1719.5 2094.3 L1725.9 2094.3 L1734.4 2094.3 L1742.9 2093.8 L1751.5 2094.3 L1760.0 2119.3 L1768.5 2092.9 L1777.0 2092.9 L1785.5 2092.9 L1794.0 2092.9 L1802.5 2092.4 L1811.1 2089.3 L1819.6 2090.5 L1828.1 2095.3 L1836.6 2097.7 L1845.1 2047.3 L1853.6 2085.7 L1862.1 2095.3 L1870.7 2094.8 L1879.2 2095.3 L1887.7 2094.3 L1896.2 2095.3 L1904.7 2094.3 L1913.2 1941.8 L1921.8 1817.1 L1930.3 1841.1 L1938.8 1836.3 L1947.3 1857.9 L1955.8 1823.1 L1964.3 1826.7 L1972.8 1802.7 L1981.4 1797.9 L1989.9 1893.8 L1998.4 1989.8 L2006.9 2131.2 L2015.4 2116.9 L2023.9 1785.9 L2032.4 1800.3 L2041.0 1788.3 L2049.5 1759.5 L2058.0 1783.5 L2066.5 1812.3 L2075.0 1784.7 L2083.5 1877.1 L2092.1 1855.5 L2100.6 2094.3 L2109.1 1875.9 L2117.6 1874.7 L2126.1 1879.4 L2134.6 1898.6 L2143.1 2006.5 L2151.7 2025.7 L2160.2 2090.5 L2168.7 2094.3 L2177.2 2093.8 L2185.7 2093.8 L2194.2 2093.8 L2202.7 2093.4 L2211.3 2093.4 L2219.8 2092.9 L2228.3 2092.9 L2236.8 2091.9 L2245.3 2091.0 L2253.8 2090.0 L2262.3 2089.0 L2270.9 2090.0 L2279.4 2088.1 L2287.9 2090.0 L2296.4 2091.9 L2304.9 2092.9 L2313.4 2093.4 L2322.0 2093.4 L2330.5 2093.4 L2339.0 2093.4 L2347.5 2093.4" fill="none" stroke="#bf7f2d" stroke-width="5" stroke-linejoin="round" stroke-linecap="butt"/>
</g>
<rect x="1496.0" y="1281.0" width="852.5" height="852.0" fill="none" stroke="#868686" stroke-width="2"/>
<path d="M1836.6 2133.0 v-10 M1836.6 1281.0 v10 M2177.2 2133.0 v-10 M2177.2 1281.0 v10 M1496.0 1926.8 h10 M2348.5 1926.8 h-10 M1496.0 1759.3 h10 M2348.5 1759.3 h-10 M1496.0 1591.8 h10 M2348.5 1591.8 h-10 M1496.0 1424.3 h10 M2348.5 1424.3 h-10" stroke="#5c5c5c" stroke-width="2" fill="none"/>
<text x="1474.0" y="2116.6" font-family="Liberation Sans" font-size="66.0" text-anchor="end" font-weight="normal" font-style="normal" fill="#262626" >0</text>
<path transform="translate(1437.29,1949.10) scale(0.03223,-0.03223)" d="M763 0 L583 0 L583 1147 Q518 1085 412.5 1023 Q307 961 223 930 L223 1104 Q374 1175 487 1276 Q600 1377 647 1472 L763 1472 Z" fill="#262626"/>
<text x="1474.0" y="1781.6" font-family="Liberation Sans" font-size="66.0" text-anchor="end" font-weight="normal" font-style="normal" fill="#262626" >2</text>
<text x="1474.0" y="1614.1" font-family="Liberation Sans" font-size="66.0" text-anchor="end" font-weight="normal" font-style="normal" fill="#262626" >3</text>
<text x="1474.0" y="1446.6" font-family="Liberation Sans" font-size="66.0" text-anchor="end" font-weight="normal" font-style="normal" fill="#262626" >4</text>
<text x="1497.0" y="2215.3" font-family="Liberation Sans" font-size="66.0" text-anchor="middle" font-weight="normal" font-style="normal" fill="#262626" >0</text>
<text x="1837.6" y="2215.3" font-family="Liberation Sans" font-size="66.0" text-anchor="middle" font-weight="normal" font-style="normal" fill="#262626" >2</text>
<text x="2178.2" y="2215.3" font-family="Liberation Sans" font-size="66.0" text-anchor="middle" font-weight="normal" font-style="normal" fill="#262626" >4</text>
<path d="M1504.0 1231.7 L1537.0 1264.7 M1504.0 1264.7 L1537.0 1231.7" stroke="#3a3a3a" stroke-width="3.3" fill="none"/>
<path transform="translate(1547.10,1265.40) scale(0.03271,-0.03271)" d="M763 0 L583 0 L583 1147 Q518 1085 412.5 1023 Q307 961 223 930 L223 1104 Q374 1175 487 1276 Q600 1377 647 1472 L763 1472 Z" fill="#262626"/>
<text x="1584.4" y="1265.4" font-family="Liberation Sans" font-size="67.0" text-anchor="start" font-weight="normal" font-style="normal" fill="#262626" >0</text>
<text x="1621.6" y="1231.9" font-family="Liberation Sans" font-size="54.0" text-anchor="start" font-weight="normal" font-style="normal" fill="#262626" >-3</text>
<path d="M2180.1 2282.9 L2213.1 2315.9 M2180.1 2315.9 L2213.1 2282.9" stroke="#3a3a3a" stroke-width="3.3" fill="none"/>
<path transform="translate(2223.20,2316.60) scale(0.03271,-0.03271)" d="M763 0 L583 0 L583 1147 Q518 1085 412.5 1023 Q307 961 223 930 L223 1104 Q374 1175 487 1276 Q600 1377 647 1472 L763 1472 Z" fill="#262626"/>
<text x="2260.5" y="2316.6" font-family="Liberation Sans" font-size="67.0" text-anchor="start" font-weight="normal" font-style="normal" fill="#262626" >0</text>
<text x="2297.7" y="2283.1" font-family="Liberation Sans" font-size="54.0" text-anchor="start" font-weight="normal" font-style="normal" fill="#262626" >-5</text>
<text transform="translate(1330.0,1290.5) scale(0.930,1)" font-family="Liberation Sans" font-size="82.0" font-weight="bold" fill="#000">d</text>
<g transform="translate(1884.00,2308.10) scale(1.0000)" fill="none" stroke="#2a2a2a" stroke-linecap="round"><ellipse cx="16.6" cy="-16.9" rx="18.2" ry="11.9" transform="rotate(-50 16.6 -16.9)" stroke-width="3.30"/><path d="M20.5 -33.3 C27 -33.9 36 -33.6 42.3 -35" stroke-width="2.80"/></g>
<text x="1927.3" y="2346.8" font-family="Liberation Sans" font-size="65.0" text-anchor="start" font-weight="normal" font-style="normal" fill="#262626" >2</text>
<g transform="translate(1416.7,1769.4) rotate(-90)">
<path transform="translate(0.00,0.00) scale(0.8200,0.9300)" d="M0 0 L0 -2.4 C4 -2.6 6 -3.8 7.5 -8.5 L23.6 -53.5 L27.2 -53.5 L42 -8.5 C43.5 -3.8 44.5 -2.6 48 -2.4 L48 0 L29 0 L29 -2.4 C34 -2.6 35.6 -3.8 34.2 -8.5 L22.6 -45.5 L10 -8.5 C8.7 -3.8 10 -2.6 15 -2.4 L15 0 Z" fill="#2a2a2a"/>
<text x="44.8" y="0.0" font-family="Liberation Sans" font-size="69.0" text-anchor="start" font-weight="normal" font-style="normal" fill="#262626" >, E</text>
</g>
</svg>
</body></html>
